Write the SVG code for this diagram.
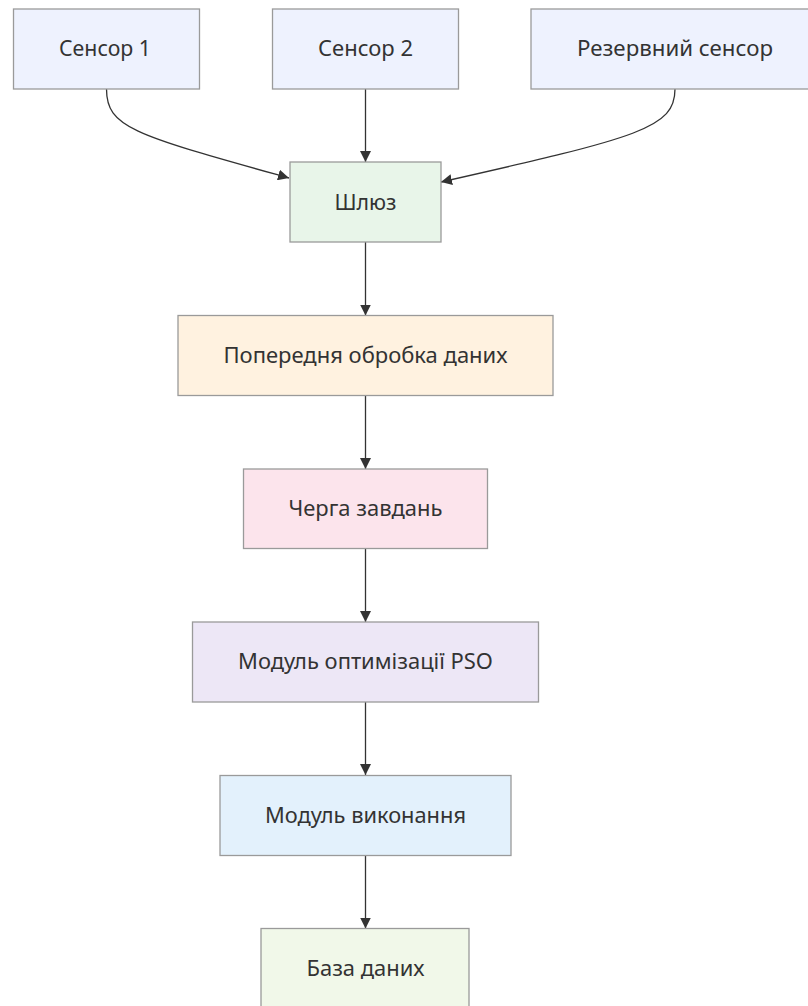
<svg xmlns="http://www.w3.org/2000/svg" width="808" height="1006" viewBox="0 0 808 1006">
  <style>
    .node rect { stroke: #9a9a9a; stroke-width: 1.3; }
    .node text { font-family: "Noto Sans", "DejaVu Sans", sans-serif; font-size: 21px; fill: #333333; text-anchor: middle; }
    .edge { fill: none; stroke: #333333; stroke-width: 1.3; }
  </style>
  <defs>
    <marker id="arrow" viewBox="0 0 10 10" refX="10" refY="5" markerUnits="userSpaceOnUse" markerWidth="11" markerHeight="11" orient="auto">
      <path d="M0,0 L10,5 L0,10 z" fill="#333333"/>
    </marker>
  </defs>
  <rect width="808" height="1006" fill="#ffffff"/>

  <g id="connectors">
    <path class="edge" d="M106.5,89 C106.5,128 135,135 289,178" marker-end="url(#arrow)"/>
    <path class="edge" d="M365.5,89 L365.5,162" marker-end="url(#arrow)"/>
    <path class="edge" d="M675,89 C675,128 640,137 441,182" marker-end="url(#arrow)"/>
    <path class="edge" d="M365.5,241.5 L365.5,315.5" marker-end="url(#arrow)"/>
    <path class="edge" d="M365.5,395.5 L365.5,469" marker-end="url(#arrow)"/>
    <path class="edge" d="M365.5,548.5 L365.5,622" marker-end="url(#arrow)"/>
    <path class="edge" d="M365.5,702 L365.5,775" marker-end="url(#arrow)"/>
    <path class="edge" d="M365.5,855.5 L365.5,928.5" marker-end="url(#arrow)"/>
  </g>

  <g id="sensor1" class="node">
    <rect x="13.5" y="9" width="186" height="80" fill="#eef2fe"/>
    <text x="105" y="56" textLength="92" lengthAdjust="spacingAndGlyphs">Сенсор 1</text>
  </g>
  <g id="sensor2" class="node">
    <rect x="272.5" y="9" width="186" height="80" fill="#eef2fe"/>
    <text x="365.5" y="56" textLength="95" lengthAdjust="spacingAndGlyphs">Сенсор 2</text>
  </g>
  <g id="backup-sensor" class="node">
    <rect x="531" y="9" width="288" height="80" fill="#eef2fe"/>
    <text x="675" y="56" textLength="196" lengthAdjust="spacingAndGlyphs">Резервний сенсор</text>
  </g>
  <g id="gateway" class="node">
    <rect x="290" y="162" width="151" height="80" fill="#e8f5e9"/>
    <text x="365.5" y="209.5" textLength="62" lengthAdjust="spacingAndGlyphs">Шлюз</text>
  </g>
  <g id="preprocessing" class="node">
    <rect x="178" y="315.5" width="375" height="80" fill="#fff2e0"/>
    <text x="365.5" y="362.5" textLength="284" lengthAdjust="spacingAndGlyphs">Попередня обробка даних</text>
  </g>
  <g id="task-queue" class="node">
    <rect x="243.5" y="469" width="244" height="79.5" fill="#fce4ec"/>
    <text x="365.5" y="516" textLength="154" lengthAdjust="spacingAndGlyphs">Черга завдань</text>
  </g>
  <g id="pso-optimizer" class="node">
    <rect x="192.5" y="622" width="346" height="80" fill="#ede7f6"/>
    <text x="365.5" y="669" textLength="255" lengthAdjust="spacingAndGlyphs">Модуль оптимізації PSO</text>
  </g>
  <g id="executor" class="node">
    <rect x="220" y="775.5" width="291" height="80" fill="#e3f1fc"/>
    <text x="365.5" y="822.5" textLength="201" lengthAdjust="spacingAndGlyphs">Модуль виконання</text>
  </g>
  <g id="database" class="node">
    <rect x="261" y="928.5" width="208" height="80" fill="#f1f8e9"/>
    <text x="365.5" y="975.5" textLength="118" lengthAdjust="spacingAndGlyphs">База даних</text>
  </g>
</svg>
